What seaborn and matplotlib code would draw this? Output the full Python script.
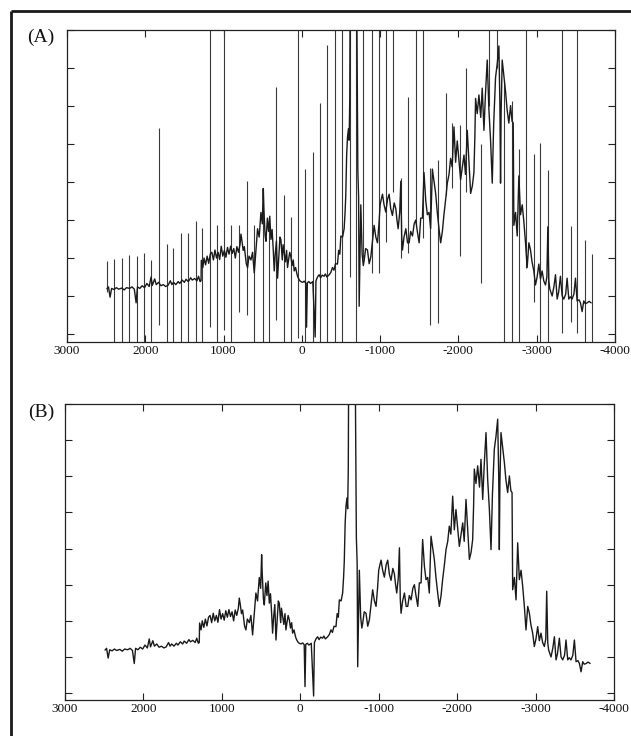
import numpy as np
import pandas as pd
import seaborn as sns
import matplotlib
matplotlib.use("Agg")
import matplotlib.pyplot as plt
from matplotlib.lines import Line2D

# Spectrum (shift vs. intensity, arbitrary units), cleaned trace
shift = [
    2490, 2470, 2450, 2430, 2400, 2370, 2340, 2300, 2270, 2240, 2200, 2170, 2140, 2117, 2100,
    2070, 2040, 2010, 1980, 1950, 1926, 1910, 1880, 1860, 1830, 1800, 1770, 1740, 1710, 1680,
    1660, 1640, 1610, 1580, 1560, 1530, 1500, 1480, 1450, 1420, 1400, 1370, 1340, 1320, 1300,
    1288, 1284, 1265, 1250, 1230, 1210, 1190, 1170, 1150, 1130, 1110, 1090, 1070, 1050, 1030,
    1010, 990, 970, 950, 930, 910, 890, 870, 850, 830, 810, 790, 778, 765, 750,
    735, 710, 693, 675, 650, 630, 608, 590, 566, 545, 523, 505, 493, 485, 470,
    459, 440, 425, 410, 395, 380, 365, 353, 340, 325, 310, 295, 280, 268, 250,
    240, 225, 210, 195, 183, 170, 155, 140, 125, 110, 98, 80, 65, 55, 40,
    25, 13, -10, -30, -50, -60, -70, -90, -110, -140, -170, -180, -200, -221, -240,
    -260, -285, -300, -320, -349, -370, -391, -410, -430, -455, -470, -485, -498, -520, -540,
    -552, -561, -572, -583, -595, -604, -612, -617, -640, -668, -700, -715, -725, -732, -745,
    -753, -770, -785, -796, -815, -838, -860, -881, -900, -923, -945, -966, -985, -1000, -1015,
    -1030, -1050, -1072, -1095, -1115, -1135, -1157, -1180, -1200, -1215, -1230, -1250, -1264, -1275, -1285,
    -1305, -1328, -1350, -1370, -1390, -1413, -1435, -1455, -1475, -1498, -1518, -1540, -1560, -1583, -1603,
    -1625, -1645, -1667, -1690, -1709, -1730, -1752, -1773, -1795, -1815, -1840, -1858, -1880, -1900, -1920,
    -1943, -1964, -1985, -2005, -2028, -2050, -2071, -2090, -2113, -2135, -2156, -2178, -2198, -2210, -2219,
    -2240, -2262, -2285, -2304, -2326, -2345, -2368, -2389, -2411, -2432, -2450, -2474, -2495, -2517, -2530,
    -2538, -2545, -2559, -2580, -2602, -2622, -2644, -2666, -2685, -2700, -2708, -2730, -2751, -2772, -2793,
    -2815, -2836, -2857, -2878, -2900, -2921, -2940, -2963, -2984, -3005, -3027, -3048, -3069, -3090, -3112,
    -3130, -3142, -3155, -3167, -3197, -3220, -3240, -3261, -3280, -3303, -3325, -3346, -3370, -3388, -3410,
    -3430, -3452, -3475, -3495, -3516, -3540, -3559, -3580, -3601, -3620, -3644, -3670, -3695,
]
intensity = [
    1.19, 1.24, 0.97, 1.20, 1.17, 1.22, 1.18, 1.21, 1.16, 1.22, 1.20, 1.24, 1.18, 0.82, 1.24,
    1.20, 1.27, 1.22, 1.33, 1.25, 1.50, 1.28, 1.45, 1.30, 1.36, 1.27, 1.30, 1.25, 1.28, 1.40,
    1.30, 1.36, 1.30, 1.38, 1.33, 1.42, 1.36, 1.44, 1.38, 1.48, 1.42, 1.46, 1.40, 1.52, 1.38,
    1.40, 1.94, 1.75, 2.00, 1.82, 2.05, 1.86, 2.10, 2.15, 1.95, 2.21, 2.00, 2.15, 1.96, 2.31,
    2.05, 2.20, 2.02, 2.28, 2.10, 2.31, 2.12, 2.25, 2.00, 2.30, 2.15, 2.35, 2.63, 2.45, 2.20,
    2.30, 1.85, 1.75, 2.05, 1.95, 2.15, 1.61, 2.10, 2.77, 2.55, 3.20, 2.90, 3.83, 3.30, 2.60,
    2.44, 3.05, 2.70, 3.10, 2.49, 2.75, 2.20, 1.66, 2.10, 2.45, 1.47, 2.00, 2.55, 2.49, 1.95,
    2.35, 2.12, 1.90, 2.20, 1.75, 1.95, 2.15, 2.03, 1.80, 1.95, 1.66, 1.75, 1.60, 1.52, 1.45,
    1.40, 1.38, 1.36, 1.39, 1.34, 0.18, 1.35, 1.38, 1.33, 1.38, -0.08, 1.40, 1.50, 1.56, 1.48,
    1.55, 1.52, 1.58, 1.50, 1.56, 1.62, 1.75, 1.68, 1.85, 1.84, 2.20, 2.10, 2.58, 2.55, 2.77,
    3.20, 3.65, 4.70, 5.18, 5.40, 5.10, 6.20, 9.00, 9.50, 9.00, 9.20, 4.30, 3.60, 0.73, 2.40,
    3.40, 2.10, 1.80, 1.94, 2.25, 2.21, 1.85, 2.03, 2.40, 2.86, 2.55, 2.40, 2.90, 3.40, 3.55,
    3.68, 3.40, 3.21, 3.55, 3.68, 3.30, 3.12, 3.45, 3.30, 3.00, 2.77, 3.20, 4.02, 2.60, 2.21,
    2.55, 2.77, 2.40, 2.40, 2.70, 2.58, 2.90, 3.00, 2.70, 2.40, 3.05, 3.05, 4.25, 3.50, 3.14,
    3.20, 2.77, 4.34, 4.00, 3.70, 3.20, 2.77, 2.40, 2.70, 3.14, 3.60, 3.97, 4.20, 4.62, 4.40,
    5.45, 4.52, 5.08, 4.60, 4.06, 4.40, 4.71, 4.20, 5.36, 4.50, 3.70, 3.90, 4.25, 5.20, 6.20,
    5.80, 6.29, 5.70, 6.47, 5.36, 6.30, 7.21, 5.92, 5.08, 3.97, 5.50, 6.75, 7.10, 7.58, 6.00,
    3.97, 5.80, 7.21, 6.80, 6.38, 5.90, 5.55, 6.01, 5.60, 5.55, 2.86, 3.20, 2.58, 4.16, 3.14,
    3.40, 2.95, 2.40, 1.75, 2.40, 2.21, 1.90, 1.66, 1.29, 1.50, 1.84, 1.45, 1.66, 1.40, 1.29,
    1.50, 2.82, 1.40, 1.19, 1.00, 1.25, 1.56, 0.92, 1.10, 1.52, 1.00, 0.92, 1.05, 1.47, 0.92,
    0.98, 0.92, 1.05, 1.47, 0.87, 0.90, 0.82, 0.59, 0.87, 0.80, 0.82, 0.86, 0.82,
]

# Raw trace: narrow artefact spikes (position, upper end, lower end)
spike_shift = [
    2486, 2401, 2303, 2205, 2111, 2018, 1928, 1826, 1728, 1643, 1549, 1460, 1358, 1273, 1175,
    1081, 996, 907, 805, 706, 609, 502, 421, 336, 234, 145, 47, -38, -136, -238,
    -323, -421, -515, -613, -690, -783, -890, -988, -1073, -1158, -1264, -1362, -1452, -1549, -1635,
    -1733, -1835, -1920, -2018, -2103, -2286, -2388, -2487, -2584, -2678, -2771, -2857, -2959, -3048, -3146,
    -3329, -3432, -3516, -3614, -3708,
]
spike_high = [
    1.92, 1.97, 2.00, 2.08, 2.05, 2.12, 1.95, 5.41, 2.36, 2.27, 2.65, 2.67, 2.97, 2.78, 8.5,
    2.88, 8.5, 2.87, 2.88, 4.03, 2.87, 3.84, 2.91, 6.51, 3.66, 3.07, 8.5, 4.34, 4.80, 6.07,
    7.60, 8.5, 8.5, 8.5, 8.5, 8.5, 8.5, 8.5, 8.5, 8.5, 4.10, 6.25, 8.5, 8.5, 4.36,
    4.58, 6.33, 5.54, 5.50, 6.99, 5.00, 8.5, 8.5, 6.64, 6.14, 4.87, 8.5, 4.75, 5.02, 4.32,
    8.5, 2.83, 8.5, 2.47, 2.10,
]
spike_low = [
    1.10, -0.5, -0.5, -0.5, -0.5, -0.5, -0.5, 0.24, -0.5, -0.5, -0.5, -0.5, -0.5, -0.5, 0.19,
    -0.5, 0.11, -0.5, 0.59, 0.50, -0.5, -0.5, -0.5, 0.37, -0.5, -0.5, -0.10, -0.5, -0.5, -0.5,
    -0.5, -0.5, -0.5, 1.50, -0.5, 2.00, 1.60, 1.60, 2.42, 3.75, 2.00, 2.13, 2.87, 2.52, 0.24,
    0.29, 3.66, 3.84, 2.04, 3.75, 1.33, 6.00, 7.00, -0.5, -0.5, -0.5, 1.73, 0.85, -0.5, -0.5,
    0.02, 0.32, 0.02, -0.5, -0.5,
]

x_ticks = [3000, 2000, 1000, 0, -1000, -2000, -3000, -4000]
y_ticks = [0, 1, 2, 3, 4, 5, 6, 7, 8]
panel_labels = ["(A)", "(B)"]

spec = pd.DataFrame({"shift": shift, "intensity": intensity})

sns.set_theme(style="white")
plt.rcParams["font.family"] = ["Liberation Serif", "DejaVu Serif"]

W, H = 631, 736
fig = plt.figure(figsize=(W / 100, H / 100), dpi=100)

ax_a = fig.add_axes([67 / W, 1 - 342 / H, 548 / W, 312 / H])
ax_b = fig.add_axes([65 / W, 1 - 700 / H, 549 / W, 296 / H])

line_color = "#1a1a1a"

ax_a.vlines(spike_shift, spike_low, spike_high, color="#3a3a3a", linewidth=0.8)
sns.lineplot(data=spec, x="shift", y="intensity", ax=ax_a, color=line_color,
             linewidth=1.0, estimator=None, sort=False)

sns.lineplot(data=spec, x="shift", y="intensity", ax=ax_b, color=line_color,
             linewidth=1.0, estimator=None, sort=False)

for ax, lo, lab, lab_y in [(ax_a, -0.21, panel_labels[0], 37), (ax_b, -0.19, panel_labels[1], 412)]:
    ax.set_xlim(3000, -4000)
    ax.set_ylim(lo, 8)
    ax.set_xticks(x_ticks)
    ax.set_xticklabels([str(t) for t in x_ticks])
    ax.set_yticks(y_ticks)
    ax.set_yticklabels([])
    ax.set_xlabel("")
    ax.set_ylabel("")
    ax.tick_params(axis="both", direction="in", length=5, width=0.8, color="#222222",
                   top=True, right=True, bottom=True, left=True,
                   labelsize=9.5, pad=2, labelcolor="#111111")
    for sp in ax.spines.values():
        sp.set_color("#222222")
        sp.set_linewidth(0.9)
        sp.set_visible(True)
    ax.set_facecolor("white")
    fig.text(41 / W, 1 - lab_y / H, lab, ha="center", va="center", fontsize=14, color="#111111")

# Outer frame (left and top edges fall inside the figure)
fig.add_artist(Line2D([11 / W, 11 / W], [-0.05, 1 - 11 / H], transform=fig.transFigure,
                      color="#1a1a1a", linewidth=2.0, solid_capstyle="butt"))
fig.add_artist(Line2D([11 / W, 1.05], [1 - 11 / H, 1 - 11 / H], transform=fig.transFigure,
                      color="#1a1a1a", linewidth=2.0, solid_capstyle="butt"))

fig.savefig("out.png", dpi=100, facecolor="white")
